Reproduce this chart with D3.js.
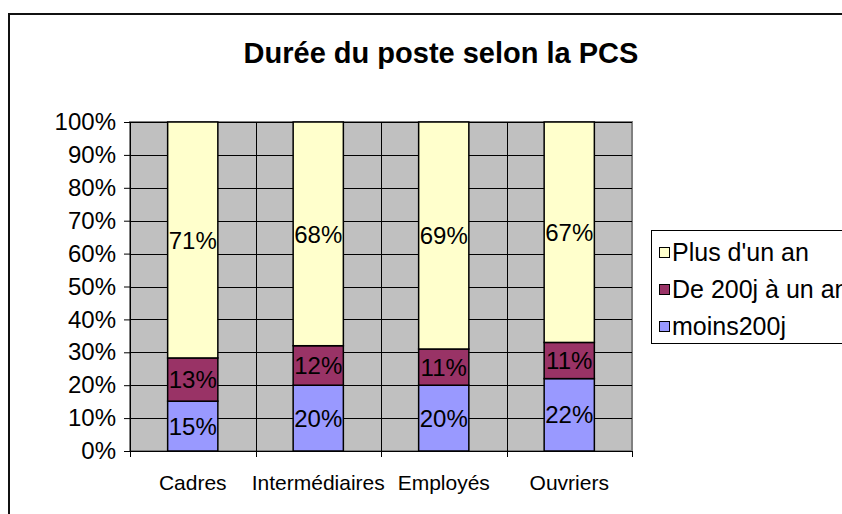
<!DOCTYPE html>
<html>
<head>
<meta charset="utf-8">
<script src="https://cdn.jsdelivr.net/npm/d3@7"></script>
<style>
  body { margin: 0; background: #fff; }
  svg { display: block; font-family: "Liberation Sans", Arial, sans-serif; }
</style>
</head>
<body>
<svg id="chart" width="842" height="514"></svg>
<script>
// data
const categories = ["Cadres", "Intermédiaires", "Employés", "Ouvriers"];
const seriesNames = ["moins200j", "De 200j à un an", "Plus d'un an"];
const moins200j = [15, 20, 20, 22];
const de200jAUnAn = [13, 12, 11, 11];
const plusDunAn = [71, 68, 69, 67];
const yTicks = [0, 0.1, 0.2, 0.3, 0.4, 0.5, 0.6, 0.7, 0.8, 0.9, 1];
const colors = ["#9999ff", "#993366", "#ffffcc"];

function createStackedChart() {
  const svg = d3.select("#chart");

  const rows = categories.map((c, i) => ({
    cat: c,
    "moins200j": moins200j[i],
    "De 200j à un an": de200jAUnAn[i],
    "Plus d'un an": plusDunAn[i],
  }));

  const stacked = d3.stack()
    .keys(seriesNames)
    .offset(d3.stackOffsetExpand)(rows);

  const plot = { left: 130, right: 632, top: 122, bottom: 451 };

  // outer chart border
  svg.append("rect")
    .attr("x", 9).attr("y", 14)
    .attr("width", 880).attr("height", 520)
    .attr("fill", "#fff")
    .attr("stroke", "#111")
    .attr("stroke-width", 2);

  // title
  svg.append("text")
    .attr("x", 441).attr("y", 63)
    .attr("text-anchor", "middle")
    .attr("font-size", 29)
    .attr("font-weight", "bold")
    .text("Durée du poste selon la PCS");

  const x = d3.scaleBand()
    .domain(categories)
    .range([plot.left, plot.right])
    .paddingInner(0);

  const y = d3.scaleLinear()
    .domain([0, 1])
    .range([plot.bottom, plot.top]);

  // plot area
  svg.append("rect")
    .attr("x", plot.left).attr("y", plot.top)
    .attr("width", plot.right - plot.left)
    .attr("height", plot.bottom - plot.top)
    .attr("fill", "#c0c0c0")
    .attr("stroke", "#808080")
    .attr("stroke-width", 2);

  // horizontal gridlines
  svg.append("g")
    .selectAll("line")
    .data(yTicks)
    .enter()
    .append("line")
    .attr("x1", plot.left).attr("x2", plot.right)
    .attr("y1", (d) => Math.round(y(d)) + 0.5)
    .attr("y2", (d) => Math.round(y(d)) + 0.5)
    .attr("stroke", "#000");

  // vertical gridlines at category boundaries
  svg.append("g")
    .selectAll("line")
    .data(categories.slice(1))
    .enter()
    .append("line")
    .attr("x1", (d) => Math.round(x(d)) + 0.5)
    .attr("x2", (d) => Math.round(x(d)) + 0.5)
    .attr("y1", plot.top).attr("y2", plot.bottom)
    .attr("stroke", "#000");

  // bars
  const barW = x.bandwidth() * 0.4;
  const layers = svg.append("g")
    .selectAll("g")
    .data(stacked)
    .enter()
    .append("g")
    .attr("fill", (d, i) => colors[i]);

  layers.selectAll("rect")
    .data((d) => d)
    .enter()
    .append("rect")
    .attr("x", (d) => x(d.data.cat) + (x.bandwidth() - barW) / 2)
    .attr("y", (d) => y(d[1]))
    .attr("width", barW)
    .attr("height", (d) => y(d[0]) - y(d[1]))
    .attr("stroke", "#000")
    .attr("stroke-width", 1.5);

  // value labels
  const raw = [moins200j, de200jAUnAn, plusDunAn];
  stacked.forEach((layer, si) => {
    svg.append("g")
      .selectAll("text")
      .data(layer)
      .enter()
      .append("text")
      .attr("x", (d) => x(d.data.cat) + x.bandwidth() / 2)
      .attr("y", (d) => (y(d[0]) + y(d[1])) / 2)
      .attr("dy", "0.36em")
      .attr("text-anchor", "middle")
      .attr("font-size", 24)
      .text((d, i) => raw[si][i] + "%");
  });

  // y axis
  const yAxis = svg.append("g")
    .attr("transform", `translate(${plot.left}, 0)`)
    .call(d3.axisLeft(y).tickValues(yTicks).tickFormat(d3.format(".0%")).tickSize(6).tickPadding(8));
  yAxis.selectAll("text").attr("font-size", 24).attr("fill", "#000");
  yAxis.select(".domain").remove();
  yAxis.append("line")
    .attr("x1", 0.5).attr("x2", 0.5)
    .attr("y1", plot.top).attr("y2", plot.bottom + 6)
    .attr("stroke", "#000");

  // x axis: ticks at category boundaries
  const xAxis = svg.append("g")
    .attr("transform", `translate(0, ${plot.bottom})`);
  xAxis.append("line")
    .attr("x1", plot.left).attr("x2", plot.right)
    .attr("y1", 0.5).attr("y2", 0.5)
    .attr("stroke", "#000");
  xAxis.selectAll(".tk")
    .data(categories.concat(["end"]))
    .enter()
    .append("line")
    .attr("class", "tk")
    .attr("x1", (d, i) => Math.round(plot.left + i * x.step()) + 0.5)
    .attr("x2", (d, i) => Math.round(plot.left + i * x.step()) + 0.5)
    .attr("y1", 0).attr("y2", 6)
    .attr("stroke", "#000");
  xAxis.selectAll(".lbl")
    .data(categories)
    .enter()
    .append("text")
    .attr("class", "lbl")
    .attr("x", (d) => x(d) + x.bandwidth() / 2)
    .attr("y", 39)
    .attr("text-anchor", "middle")
    .attr("font-size", 21)
    .text((d) => d);

  // legend
  const legend = svg.append("g").attr("transform", "translate(651, 230)");
  legend.append("rect")
    .attr("x", 0.5).attr("y", 0.5)
    .attr("width", 240).attr("height", 113)
    .attr("fill", "#fff")
    .attr("stroke", "#000");
  const legendOrder = [2, 1, 0];
  const items = legend.selectAll(".item")
    .data(legendOrder)
    .enter()
    .append("g")
    .attr("transform", (d, i) => `translate(8, ${22 + i * 37})`);
  items.append("rect")
    .attr("x", 0.5).attr("y", -4.5)
    .attr("width", 10).attr("height", 10)
    .attr("fill", (d) => colors[d])
    .attr("stroke", "#000");
  items.append("text")
    .attr("x", 13)
    .attr("y", 0)
    .attr("dy", "0.36em")
    .attr("font-size", 25)
    .text((d) => seriesNames[d]);
}

createStackedChart();
</script>
</body>
</html>
